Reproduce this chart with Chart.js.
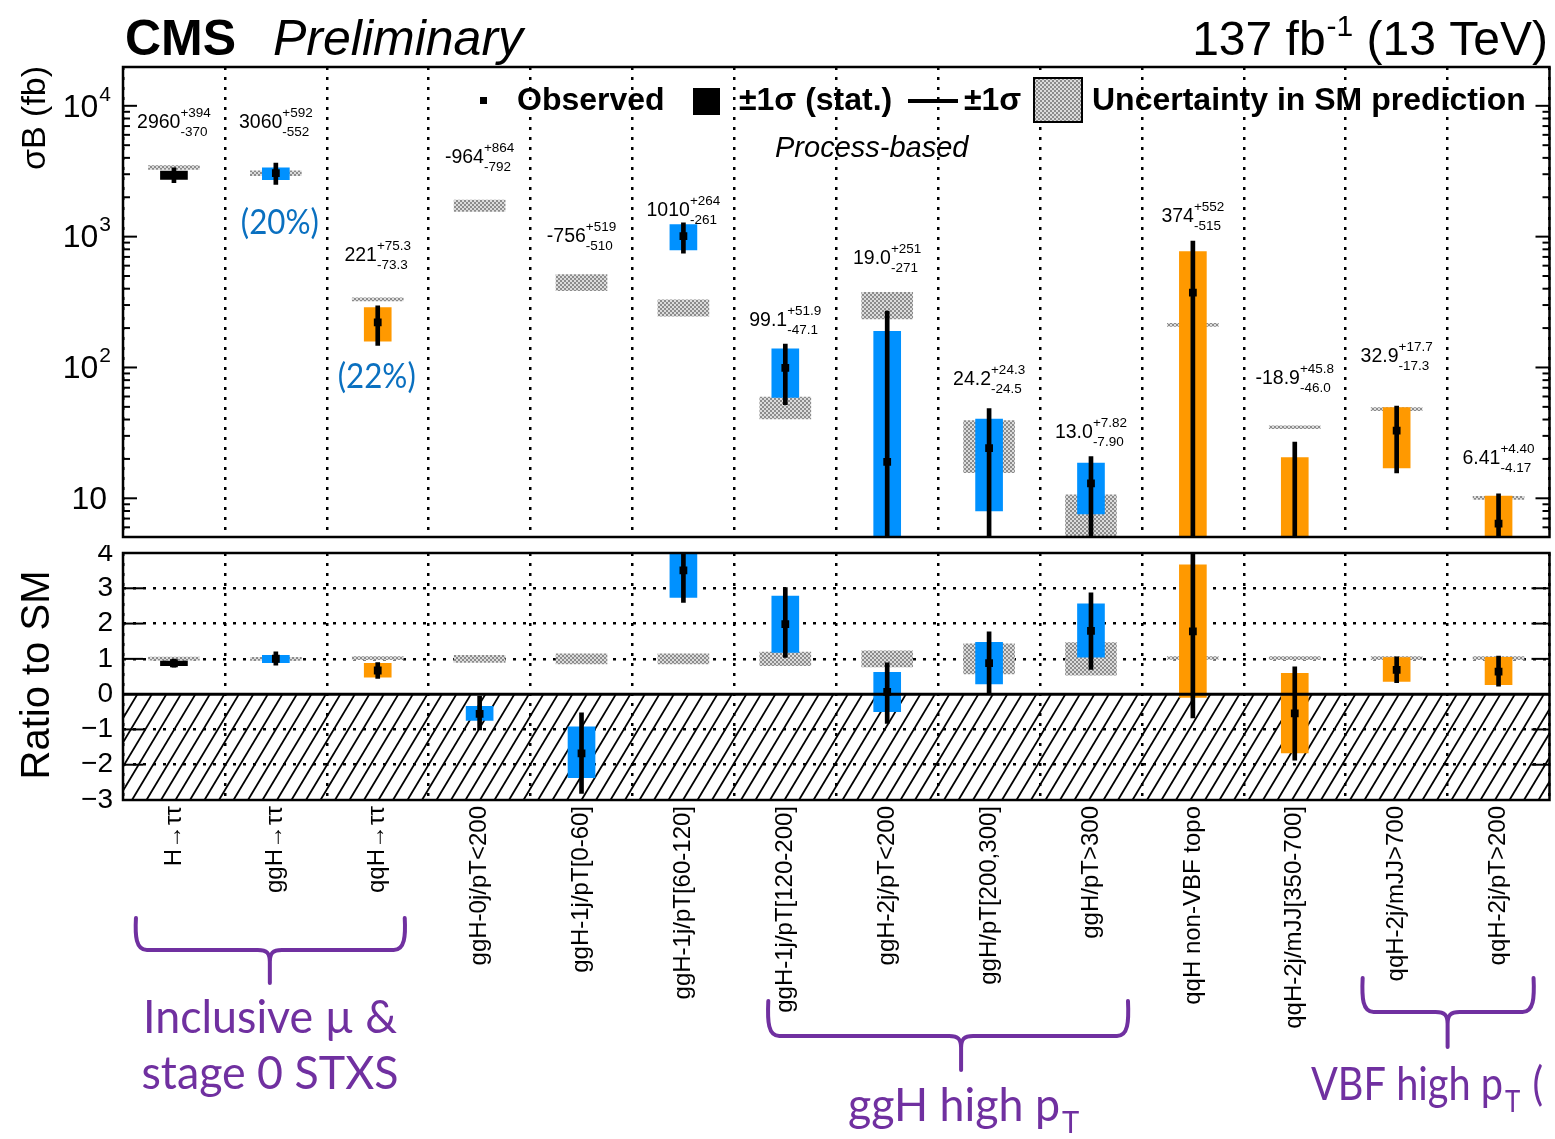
<!DOCTYPE html>
<html>
<head>
<meta charset="utf-8">
<title>H→ττ STXS cross sections</title>
<script src="https://cdn.jsdelivr.net/npm/chart.js@4.4.1/dist/chart.umd.min.js"></script>
<style>
  html, body { margin: 0; padding: 0; background: #fff; }
  #page { position: relative; width: 1555px; height: 1139px; overflow: hidden; background: #fff; }
  #upperBox { position: absolute; left: 0; top: 0; width: 1555px; height: 545px; }
  #lowerBox { position: absolute; left: 0; top: 545px; width: 1555px; height: 594px; }
</style>
</head>
<body>
<div id="page">
  <div id="upperBox"><canvas id="upper" width="1555" height="545"></canvas></div>
  <div id="lowerBox"><canvas id="lower" width="1555" height="594"></canvas></div>
</div>
<script>
// ---- measured cross sections (fb) and their uncertainties ----
const categories = [
  'H\u2192\u03c4\u03c4', 'ggH\u2192\u03c4\u03c4', 'qqH\u2192\u03c4\u03c4',
  'ggH-0j/pT<200', 'ggH-1j/pT[0-60]', 'ggH-1j/pT[60-120]', 'ggH-1j/pT[120-200]',
  'ggH-2j/pT<200', 'ggH/pT[200,300]', 'ggH/pT>300',
  'qqH non-VBF topo', 'qqH-2j/mJJ[350-700]', 'qqH-2j/mJJ>700', 'qqH-2j/pT>200'
];
const productionMode = ['all', 'ggH', 'qqH', 'ggH', 'ggH', 'ggH', 'ggH', 'ggH', 'ggH', 'ggH', 'qqH', 'qqH', 'qqH', 'qqH'];
const observed  = [2960, 3060, 221, -964, -756, 1010, 99.1, 19.0, 24.2, 13.0, 374, -18.9, 32.9, 6.41];
const totalUp   = [394, 592, 75.3, 864, 519, 264, 51.9, 251, 24.3, 7.82, 552, 45.8, 17.7, 4.40];
const totalDown = [370, 552, 73.3, 792, 510, 261, 47.1, 271, 24.5, 7.90, 515, 46.0, 17.3, 4.17];
const statUp    = [205, 300, 66, 370, 340, 225, 40, 170, 16.2, 5.6, 395, 39.4, 16.5, 4.0];
const statDown  = [225, 330, 62, 330, 310, 220, 40, 170, 16.2, 5.4, 393, 38.8, 15.8, 3.75];
const smPrediction  = [3380, 3050, 330, 1730, 450, 288, 50, 305, 27.5, 7.26, 210, 34.7, 47.8, 10.0];
const smUncertainty = [120, 130, 7, 170, 63, 41, 9.5, 70, 11.8, 3.35, 4, 0.7, 1.0, 0.2];
const logDecades = [1, 2, 3, 4];
const ratioTickValues = [4, 3, 2, 1, 0, -1, -2, -3];

// ---- layout / style constants ----
const Y_MIN = 5.06, Y_MAX = 19800;
const modeColor = { all: '#000000', ggH: '#0091ff', qqH: '#ff9900' };
const labelLift = [37, 35, 37, 37, 33, 7, 18, 28, 24, 19, 19, 42, 44, 30];
const FONT = "'Liberation Sans', Arial, Helvetica, sans-serif";
const PURPLE = '#7030a0';
const NOTE_BLUE = '#0a70c0';

Chart.defaults.font.family = FONT;
Chart.defaults.color = '#000';

function makeSmPattern() {
  const c = document.createElement('canvas');
  c.width = 4; c.height = 4;
  const g = c.getContext('2d');
  g.fillStyle = '#dcdcdc'; g.fillRect(0, 0, 4, 4);
  g.fillStyle = '#8c8c8c'; g.fillRect(0, 0, 2, 2); g.fillRect(2, 2, 2, 2);
  return g.createPattern(c, 'repeat');
}
const smFill = makeSmPattern();
const statColors = productionMode.map(m => modeColor[m]);

const fmt = v => Math.abs(v) >= 1000 ? v.toFixed(0) : v.toPrecision(3);
const positive = v => (v > 0 ? v : 1e-3);

// upper panel series (log scale: only positive parts can be drawn)
const upperSM    = smPrediction.map((s, i) => [s - smUncertainty[i], s + smUncertainty[i]]);
const upperStat  = observed.map((o, i) => (o + statUp[i] > 0 ? [positive(o - statDown[i]), o + statUp[i]] : null));
const upperTotal = observed.map((o, i) => (o + totalUp[i] > 0 ? [positive(o - totalDown[i]), o + totalUp[i]] : null));
const upperObs   = observed.map(o => (o > 0 ? o : null));

// lower panel: everything relative to the SM prediction
const ratioSM    = smPrediction.map((s, i) => [1 - smUncertainty[i] / s, 1 + smUncertainty[i] / s]);
const ratioStat  = observed.map((o, i) => [(o - statDown[i]) / smPrediction[i], (o + statUp[i]) / smPrediction[i]]);
const ratioTotal = observed.map((o, i) => [(o - totalDown[i]) / smPrediction[i], (o + totalUp[i]) / smPrediction[i]]);
const ratioObs   = observed.map((o, i) => o / smPrediction[i]);

function seriesDatasets(sm, stat, total, obs) {
  return [
    { type: 'line', data: obs, showLine: false, pointStyle: 'rect', pointRadius: 5.5, pointHoverRadius: 5.5,
      pointBackgroundColor: '#000', pointBorderWidth: 0, borderColor: '#000', order: 0, clip: 0 },
    { data: total, backgroundColor: '#000', barThickness: 4, grouped: false, order: 1, clip: 0 },
    { data: stat, backgroundColor: statColors, barThickness: 27, grouped: false, order: 2, clip: 0 },
    { data: sm, backgroundColor: smFill, barThickness: 51, grouped: false, order: 3, clip: 0, minBarLength: 3 }
  ];
}

function hline(ctx, x0, y0, x1, y1) {
  ctx.beginPath(); ctx.moveTo(x0, y0); ctx.lineTo(x1, y1); ctx.stroke();
}

function squeezed(ctx, text, x, y, font, sx, align) {
  ctx.save();
  ctx.font = font;
  ctx.translate(x, y);
  ctx.scale(sx, 1);
  ctx.textAlign = align || 'left';
  ctx.fillText(text, 0, 0);
  ctx.restore();
}

// keep the plot frame exactly where the axes are fitted
function fixVertical(s) { s.width = 123; s.paddingTop = 0; s.paddingBottom = 0; }

// ---------- upper panel decorations ----------
const upperDecor = {
  id: 'upperDecor',
  afterDraw(chart) {
    const { ctx, chartArea: a, scales: { x, y } } = chart;
    ctx.save();
    ctx.fillStyle = '#000';
    ctx.strokeStyle = '#000';

    // frame
    ctx.lineWidth = 2.5;
    ctx.strokeRect(a.left, a.top, a.right - a.left, a.bottom - a.top);

    // inward log ticks on both sides
    ctx.lineWidth = 2;
    for (let e = 0; e <= 4; e++) {
      for (let m = 1; m <= 9; m++) {
        const v = m * Math.pow(10, e);
        if (v < Y_MIN || v > Y_MAX) continue;
        const py = y.getPixelForValue(v);
        const len = m === 1 ? 14 : 7;
        hline(ctx, a.left, py, a.left + len, py);
        hline(ctx, a.right, py, a.right - len, py);
      }
    }

    // decade labels
    ctx.textBaseline = 'middle';
    logDecades.forEach(e => {
      const py = y.getPixelForValue(Math.pow(10, e));
      if (e === 1) {
        ctx.font = '32px ' + FONT; ctx.textAlign = 'right';
        ctx.fillText('10', 107, py + 2);
      } else {
        ctx.font = '21px ' + FONT; ctx.textAlign = 'right';
        const ex = String(e);
        const w = ctx.measureText(ex).width;
        ctx.fillText(ex, 111, py - 11);
        ctx.font = '32px ' + FONT;
        ctx.fillText('10', 111 - w - 1, py + 2);
      }
    });

    // axis title
    ctx.save();
    ctx.translate(36, 118);
    ctx.rotate(-Math.PI / 2);
    ctx.font = '34px ' + FONT; ctx.textAlign = 'center'; ctx.textBaseline = 'middle';
    ctx.fillText('\u03c3B (fb)', 0, 0);
    ctx.restore();

    // header
    ctx.textBaseline = 'alphabetic'; ctx.textAlign = 'left';
    ctx.font = 'bold 50px ' + FONT;
    ctx.fillText('CMS', 125, 55);
    ctx.font = 'italic 50px ' + FONT;
    ctx.fillText('Preliminary', 273, 55);
    ctx.textAlign = 'right';
    ctx.font = '48px ' + FONT;
    const tail = ' (13 TeV)';
    const wTail = ctx.measureText(tail).width;
    ctx.fillText(tail, 1548, 55);
    ctx.font = '30px ' + FONT;
    const wSup = ctx.measureText('-1').width;
    ctx.fillText('-1', 1548 - wTail, 36);
    ctx.font = '48px ' + FONT;
    ctx.fillText('137 fb', 1548 - wTail - wSup - 1, 55);

    // legend
    const ly = 101;
    ctx.textAlign = 'left'; ctx.textBaseline = 'middle';
    ctx.font = 'bold 32px ' + FONT;
    ctx.fillRect(480, ly - 4, 7, 7);
    ctx.fillText('Observed', 517, ly);
    ctx.fillRect(693, ly - 13, 27, 27);
    ctx.fillText('\u00b11\u03c3 (stat.)', 739, ly);
    ctx.lineWidth = 4;
    hline(ctx, 908, ly, 958, ly);
    ctx.fillText('\u00b11\u03c3', 964, ly);
    ctx.fillStyle = smFill;
    ctx.fillRect(1034, ly - 23, 48, 44);
    ctx.lineWidth = 2;
    ctx.strokeRect(1034, ly - 23, 48, 44);
    ctx.fillStyle = '#000';
    ctx.fillText('Uncertainty in SM prediction', 1092, ly);
    ctx.font = 'italic 29px ' + FONT;
    ctx.fillText('Process-based', 775, 149);

    // value labels: central value with +up / -down
    ctx.textBaseline = 'alphabetic'; ctx.textAlign = 'left';
    observed.forEach((o, i) => {
      const tops = [y.getPixelForValue(smPrediction[i] + smUncertainty[i])];
      if (o + totalUp[i] > 0) tops.push(y.getPixelForValue(o + totalUp[i]));
      const base = Math.min(...tops) - labelLift[i];
      const main = fmt(o), up = '+' + fmt(totalUp[i]), dn = '-' + fmt(totalDown[i]);
      ctx.font = '19.5px ' + FONT; const wm = ctx.measureText(main).width;
      ctx.font = '13.5px ' + FONT;
      const ws = Math.max(ctx.measureText(up).width, ctx.measureText(dn).width);
      const x0 = x.getPixelForValue(i) - (wm + ws) / 2;
      ctx.font = '19.5px ' + FONT; ctx.fillText(main, x0, base);
      ctx.font = '13.5px ' + FONT;
      ctx.fillText(up, x0 + wm, base - 11);
      ctx.fillText(dn, x0 + wm, base + 8);
    });

    // relative precision notes
    ctx.fillStyle = NOTE_BLUE; ctx.textBaseline = 'middle';
    const noteFont = "34px Lato, 'Open Sans', sans-serif";
    squeezed(ctx, '(20%)', x.getPixelForValue(1) + 4, 223, noteFont, 0.92, 'center');
    squeezed(ctx, '(22%)', x.getPixelForValue(2) - 1, 377, noteFont, 0.92, 'center');
    ctx.restore();
  }
};

// ---------- lower panel decorations ----------
function drawBrace(ctx, x0, x1, xt, yTop, yMid, yTip) {
  const r = 12;
  ctx.beginPath();
  ctx.moveTo(x0 + 1, yTop);
  ctx.bezierCurveTo(x0, yMid - 14, x0 + 1, yMid, x0 + r, yMid);
  ctx.lineTo(xt - r, yMid);
  ctx.bezierCurveTo(xt - 3, yMid, xt, yMid + 3, xt, yMid + 12);
  ctx.lineTo(xt, yTip);
  ctx.moveTo(x1 - 1, yTop);
  ctx.bezierCurveTo(x1, yMid - 14, x1 - 1, yMid, x1 - r, yMid);
  ctx.lineTo(xt + r, yMid);
  ctx.bezierCurveTo(xt + 3, yMid, xt, yMid + 3, xt, yMid + 12);
  ctx.stroke();
}

const lowerDecor = {
  id: 'lowerDecor',
  beforeDatasetsDraw(chart) {
    const { ctx, chartArea: a, scales: { y } } = chart;
    const y0 = y.getPixelForValue(0);
    const h = a.bottom - y0;
    ctx.save();
    ctx.beginPath();
    ctx.rect(a.left, y0, a.right - a.left, h);
    ctx.clip();
    ctx.strokeStyle = '#000';
    ctx.lineWidth = 1.8;
    const dx = 0.6 * h;
    for (let xs = a.left - dx; xs < a.right + 15; xs += 14.5) {
      hline(ctx, xs, a.bottom, xs + dx, y0);
    }
    ctx.restore();
  },
  afterDatasetsDraw(chart) {
    const { ctx, chartArea: a, scales: { y } } = chart;
    ctx.save();
    ctx.strokeStyle = '#000';
    ctx.lineWidth = 3;
    const y0 = y.getPixelForValue(0);
    hline(ctx, a.left, y0, a.right, y0);
    ctx.lineWidth = 2.5;
    ctx.strokeRect(a.left, a.top, a.right - a.left, a.bottom - a.top);
    ctx.lineWidth = 2;
    ratioTickValues.forEach(v => {
      const py = y.getPixelForValue(v);
      hline(ctx, a.left, py, a.left + 20, py);
      hline(ctx, a.right, py, a.right - 18, py);
    });
    ctx.restore();
  },
  afterDraw(chart) {
    const { ctx, scales: { x } } = chart;
    const top = chart.canvas.parentNode.offsetTop;
    ctx.save();
    ctx.translate(0, -top);

    // axis title
    ctx.save();
    ctx.translate(38, 675);
    ctx.rotate(-Math.PI / 2);
    ctx.fillStyle = '#000';
    ctx.font = '40px ' + FONT; ctx.textAlign = 'center'; ctx.textBaseline = 'middle';
    ctx.fillText('Ratio to SM', 0, 0);
    ctx.restore();

    // group braces
    const px = i => x.getPixelForValue(i);
    ctx.strokeStyle = PURPLE; ctx.fillStyle = PURPLE;
    ctx.lineWidth = 4; ctx.lineCap = 'round';
    drawBrace(ctx, px(0) - 39, px(2) + 28, (px(0) + px(2)) / 2 - 6, 918, 950, 983);
    drawBrace(ctx, px(6) - 18, px(9) + 38, px(8) - 28, 1001, 1036, 1070);
    drawBrace(ctx, px(12) - 35, px(13) + 36, (px(12) + px(13)) / 2, 978, 1012, 1047);

    // group captions
    const capFont = "46px Lato, 'Open Sans', sans-serif";
    const subFont = "30px Lato, 'Open Sans', sans-serif";
    ctx.font = capFont;
    const sx = 254 / ctx.measureText('Inclusive \u00b5 &').width;
    ctx.textBaseline = 'alphabetic';
    squeezed(ctx, 'Inclusive \u00b5 &', 270, 1033, capFont, sx, 'center');
    squeezed(ctx, 'stage 0 STXS', 270, 1089, capFont, sx, 'center');

    // caption with a subscript T, squeezed so "<text>" spans the given width
    const pt = (text, xLeft, base, width, trail) => {
      ctx.font = capFont;
      const k = width / ctx.measureText(text).width;
      squeezed(ctx, text, xLeft, base, capFont, k, 'left');
      ctx.font = subFont;
      const w2 = ctx.measureText('T').width * k;
      squeezed(ctx, 'T', xLeft + width + 2, base + 12, subFont, k, 'left');
      if (trail) squeezed(ctx, trail, xLeft + width + w2 + 4, base, capFont, k, 'left');
    };
    pt('ggH high p', 848, 1121, 212);
    pt('VBF high p', 1311, 1100, 192, ' (');
    ctx.restore();
  }
};

// ---------- charts ----------
new Chart(document.getElementById('upper').getContext('2d'), {
  type: 'bar',
  data: { labels: categories, datasets: seriesDatasets(upperSM, upperStat, upperTotal, upperObs) },
  options: {
    responsive: false, animation: false, events: [],
    layout: { padding: { top: 67, right: 3, bottom: 8, left: 0 } },
    plugins: { legend: { display: false }, tooltip: { enabled: false } },
    scales: {
      x: {
        type: 'category', offset: true,
        ticks: { display: false },
        grid: { offset: true, color: '#000', lineWidth: 2.5, drawTicks: false },
        border: { display: false, dash: [3, 7] },
        afterFit(s) { s.height = 0; s.paddingLeft = 0; s.paddingRight = 0; }
      },
      y: {
        type: 'logarithmic', min: Y_MIN, max: Y_MAX,
        ticks: { display: false },
        grid: { display: false, drawTicks: false },
        border: { display: false },
        afterFit: fixVertical
      }
    }
  },
  plugins: [upperDecor]
});

new Chart(document.getElementById('lower').getContext('2d'), {
  type: 'bar',
  data: { labels: categories, datasets: seriesDatasets(ratioSM, ratioStat, ratioTotal, ratioObs) },
  options: {
    responsive: false, animation: false, events: [],
    layout: { padding: { top: 8, right: 3, bottom: 0, left: 0 } },
    plugins: { legend: { display: false }, tooltip: { enabled: false } },
    scales: {
      x: {
        type: 'category', offset: true,
        ticks: { autoSkip: false, minRotation: 90, maxRotation: 90, padding: 6, font: { size: 24 }, color: '#000' },
        grid: { offset: true, color: '#000', lineWidth: 2.5, drawTicks: false },
        border: { display: false, dash: [3, 7] },
        afterFit(s) { s.height = 339; s.paddingLeft = 0; s.paddingRight = 0; }
      },
      y: {
        type: 'linear', min: -3, max: 4,
        ticks: {
          stepSize: 1, autoSkip: false, padding: 10, font: { size: 28 }, color: '#000',
          callback: v => (v < 0 ? '\u2212' + Math.abs(v) : String(v))
        },
        grid: {
          drawTicks: false, lineWidth: 2.5,
          color: c => ([1, 2, 3, -1, -2].includes(c.tick && c.tick.value) ? '#000' : 'rgba(0,0,0,0)')
        },
        border: { display: false, dash: [3, 7] },
        afterFit: fixVertical
      }
    }
  },
  plugins: [lowerDecor]
});
</script>
</body>
</html>
